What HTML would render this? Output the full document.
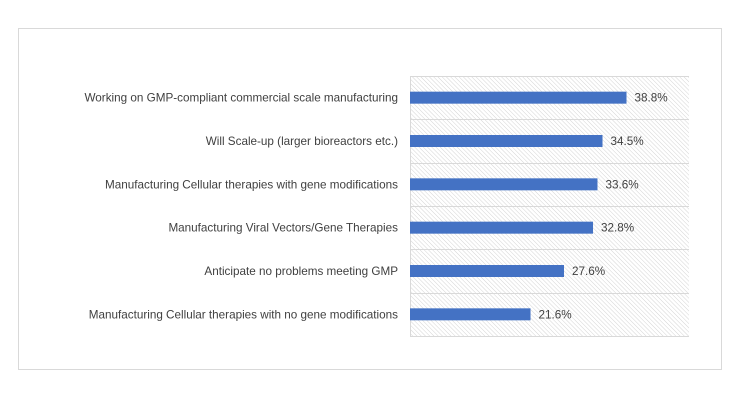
<!DOCTYPE html>
<html><head><meta charset="utf-8"><style>
body{margin:0;background:#fff;font-family:"Liberation Sans",sans-serif}
svg text{font-family:"Liberation Sans",sans-serif;font-size:11.7px;fill:#404040}
</style></head><body>
<svg id="c" width="740" height="400">
<defs><pattern id="h" width="3" height="3" patternUnits="userSpaceOnUse" patternTransform="rotate(-45)"><line x1="0" y1="0" x2="0" y2="3" stroke="#d4d4d4" stroke-width="1"/></pattern></defs>
<rect x="18.5" y="28.5" width="703" height="341" fill="#fff" stroke="#d9d9d9"/>
<g id="g"></g>
</svg>
<script>
const categories=["Working on GMP-compliant commercial scale manufacturing","Will Scale-up (larger bioreactors etc.)","Manufacturing Cellular therapies with gene modifications","Manufacturing Viral Vectors/Gene Therapies","Anticipate no problems meeting GMP","Manufacturing Cellular therapies with no gene modifications"];
const values=[38.8,34.5,33.6,32.8,27.6,21.6];
const labels=["38.8%","34.5%","33.6%","32.8%","27.6%","21.6%"];
const xMax=50;
const NS="http://www.w3.org/2000/svg",g=document.getElementById('g');
const x0=410,x1=689,y0=76,y1=336,band=(y1-y0)/categories.length;
const xs=v=>x0+(x1-x0)*v/xMax;
function mk(t,a){const e=document.createElementNS(NS,t);for(const k in a)e.setAttribute(k,a[k]);g.appendChild(e);return e;}
const bg=mk('rect',{x:x0,y:y0,width:x1-x0,height:y1-y0,fill:'url(#h)'});


for(let i=0;i<=categories.length;i++){const y=Math.round(y0+i*band)+0.5;const l=mk('line',{x1:x0,x2:x1,y1:y,y2:y,stroke:'#d9d9d9'});

}
const ax=mk('line',{x1:x0+0.5,x2:x0+0.5,y1:y0,y2:y1,stroke:'#d9d9d9'});


categories.forEach((c,i)=>{const cy=y0+band*(i+0.5);
const b=mk('rect',{x:x0,y:cy-6,width:xs(values[i])-x0,height:12,fill:'#4472c4'});


const t=mk('text',{x:x0-12,y:cy+4,'text-anchor':'end'});t.textContent=c;


const v=mk('text',{x:xs(values[i])+8,y:cy+4});v.textContent=labels[i];

});
</script>
</body></html>
